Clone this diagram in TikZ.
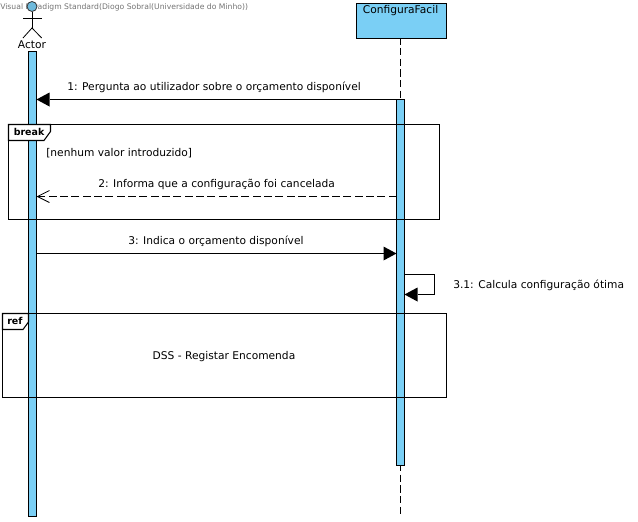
\documentclass[tikz,border=0pt]{standalone}
\usepackage{fontspec}
\setmainfont{DejaVu Sans}
\usetikzlibrary{arrows.meta}
\definecolor{barblue}{HTML}{7ACFF5}
\newcommand{\pxfont}[1]{\fontsize{#1}{#1}\selectfont}
\tikzset{
  x=0.75pt,y=-0.75pt,
  line/.style={draw=black,line width=0.8pt},
  bar/.style={line,fill=barblue},
  lifeline/.style={draw=black,line width=0.8pt,dash pattern=on 5.5pt off 2.5pt},
  msg/.style={line,-{Triangle[length=9.75pt,width=10.5pt,fill=black,line width=0pt]}},
  ret/.style={line,dash pattern=on 6pt off 2.5pt,-{Straight Barb[length=9pt,width=9pt,line width=0.6pt]}},
  lbl/.style={inner sep=0pt,text=black,font=\pxfont{8},anchor=base west},
  tab/.style={line,fill=white},
  tablbl/.style={inner sep=0pt,font=\pxfont{7.1}\bfseries,anchor=base west},
}
\begin{document}
\begin{tikzpicture}
\useasboundingbox (0,0) rectangle (638,521);
% lifeline
\node[inner sep=0pt,minimum size=0pt] (cfgtop) at (400.5,37) {};
\node[inner sep=0pt,minimum size=0pt] (cfgend) at (400.5,517) {};
\draw[lifeline] (cfgtop) -- (cfgend);
% activation bars
\draw[bar] (28.5,51.5) rectangle (36.5,516.5);
\draw[bar] (396.5,99.5) rectangle (404.5,465.5);
\coordinate (aA) at (36.5,99.5);
\coordinate (cA) at (396.5,99.5);
\coordinate (aB) at (36.5,196.5);
\coordinate (cB) at (396.5,196.5);
\coordinate (aC) at (36.5,253.5);
\coordinate (cC) at (396.5,253.5);
\coordinate (sA) at (404.5,274.5);
\coordinate (sB) at (434.5,274.5);
\coordinate (sC) at (434.5,294.5);
\coordinate (sD) at (404.5,294.5);
% config box
\node[line,fill=barblue,minimum width=90pt*0.75,minimum height=35pt*0.75,inner sep=0pt,anchor=north west] (cfg) at (355.5,2.5) {};
\node[inner sep=0pt,font=\pxfont{8},anchor=base] (cfgl) at (400.5,13) {ConfiguraFacil};
% watermark
\node[inner sep=0pt,font=\pxfont{5.75},text=black!55,anchor=base west] (wm) at (0,9.5) {Visual Paradigm Standard(Diogo Sobral(Universidade do Minho))};
% actor
\node[circle,draw=black!80,line width=0.6pt,fill=barblue!90!black,minimum size=7.5pt,inner sep=0pt] (head) at (32,6.5) {};
\coordinate (hip) at (32,28);
\draw[line,line width=0.6pt] (head.south) -- (hip);
\draw[line,line width=0.6pt] (23,18) -- (41.7,18);
\draw[line,line width=0.6pt] (23,38) -- (hip) -- (41.7,38);
\node[inner sep=0pt,font=\pxfont{8},anchor=base] (actor) at (32,48) {Actor};
% frames
\draw[line] (8.5,124.5) rectangle (439.5,219.5);
\draw[tab] (8.5,124.5) -- (50.5,124.5) -- (50.5,131.5) -- (44,140.5) -- (8.5,140.5) -- cycle;
\node[tablbl] (brk) at (13.5,135) {break};
\node[lbl] (guard) at (46,156) {[nenhum valor introduzido]};
\draw[line] (2.5,313.5) rectangle (446.5,397.5);
\draw[tab] (2.5,313.5) -- (28.5,313.5) -- (28.5,322) -- (23,329.5) -- (2.5,329.5) -- cycle;
\node[tablbl] (rf) at (7,324) {ref};
\node[inner sep=0pt,font=\pxfont{8},anchor=base] (dss) at (224,359) {DSS - Registar Encomenda};
% messages
\draw[msg] (cA) -- (aA);
\node[lbl] at (67,90) {1: Pergunta ao utilizador sobre o orçamento disponível};
\draw[ret] (cB) -- (aB);
\node[lbl] at (98,187) {2: Informa que a configuração foi cancelada};
\draw[msg] (aC) -- (cC);
\node[lbl] at (128,244) {3: Indica o orçamento disponível};
\draw[msg] (sA) -- (sB) -- (sC) -- (sD);
\node[lbl] at (453,288) {3.1: Calcula configuração ótima};
\end{tikzpicture}
\end{document}
